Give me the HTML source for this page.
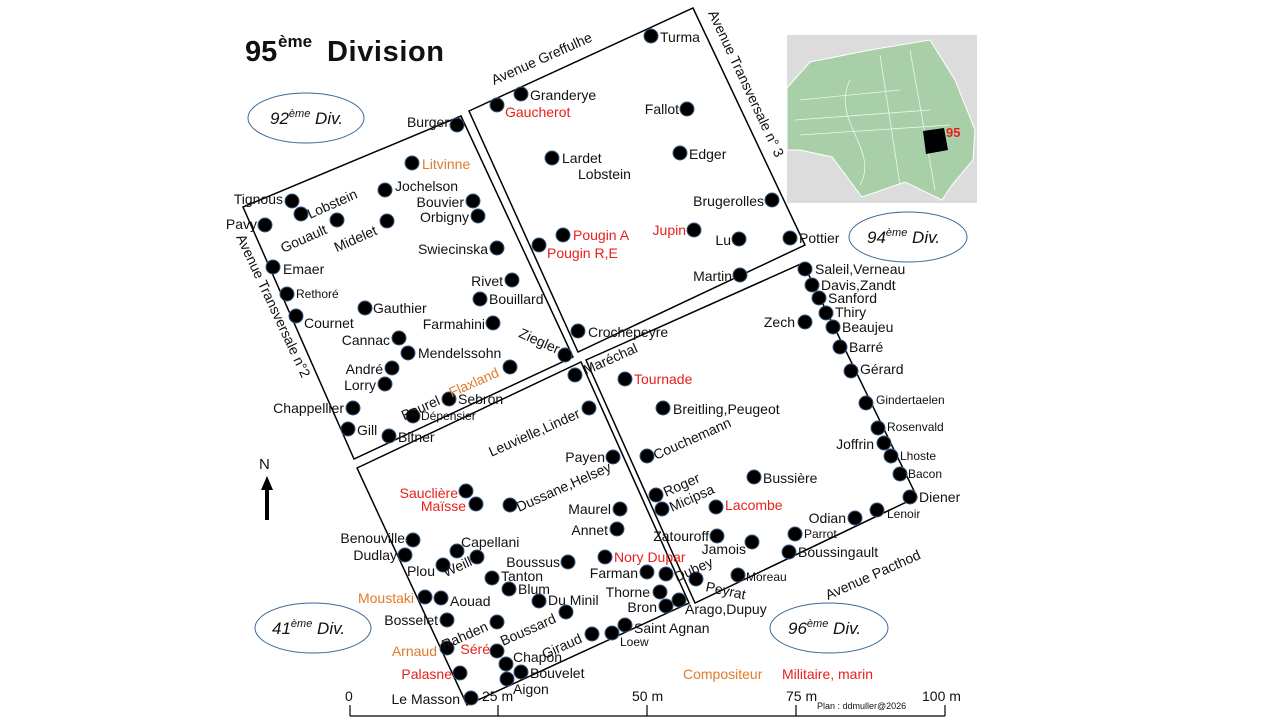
<!DOCTYPE html>
<html><head><meta charset="utf-8"><style>
html,body{margin:0;padding:0;background:#fff;width:1280px;height:720px;overflow:hidden}
svg{display:block;font-family:"Liberation Sans",Arial,sans-serif}
text{font-size:14px;fill:#111}
.r{fill:#e8201c}.o{fill:#e07b2b}
.e{text-anchor:end}
.s{font-size:12px}
</style></head><body>
<svg width="1280" height="720" viewBox="0 0 1280 720">
<!-- title -->
<text x="245" y="61" style="font-size:29px;font-weight:bold">95</text>
<text x="278" y="47" style="font-size:17px;font-weight:bold">ème</text>
<text x="327" y="61" style="font-size:29px;font-weight:bold;letter-spacing:0.6px">Division</text>

<!-- inset map -->
<rect x="787" y="35" width="190" height="168" fill="#dcdcdc"/>
<polygon points="787,88 810,62 870,50 930,40 955,80 975,130 973,160 952,185 942,200 905,182 862,197 832,157 800,150 787,150" fill="#a9cfa9" stroke="#fff" stroke-width="1"/>
<g stroke="#fff" stroke-width="0.8" fill="none" opacity="0.8">
<path d="M800,100 L900,90 M795,120 L930,110 M800,135 L950,125 M880,55 L900,185 M910,50 L935,190 M850,80 C830,120 880,150 860,185"/>
</g>
<polygon points="923,131 944,128 948,150 926,154" fill="#000"/>
<text x="946" y="137" style="font-size:13px;font-weight:bold;fill:#e8201c">95</text>

<!-- blocks -->
<g fill="none" stroke="#000" stroke-width="1.5">
<polygon points="243,207 461,116 573,357 354,459"/>
<polygon points="469,111 693,8 805,245 578,352"/>
<polygon points="357,468 581,362 689,603 467,705"/>
<polygon points="586,360 803,263 917,497 695,603"/>
</g>

<!-- ellipses -->
<g fill="none" stroke="#3a6a99" stroke-width="1">
<ellipse cx="306" cy="118" rx="58" ry="25"/>
<ellipse cx="908" cy="237" rx="59" ry="25"/>
<ellipse cx="313" cy="628" rx="58" ry="25"/>
<ellipse cx="829" cy="628" rx="59" ry="25"/>
</g>
<text x="270" y="124" style="font-size:17px;font-style:italic">92<tspan dy="-7" style="font-size:11px">ème</tspan><tspan dy="7"> Div.</tspan></text>
<text x="867" y="243" style="font-size:17px;font-style:italic">94<tspan dy="-7" style="font-size:11px">ème</tspan><tspan dy="7"> Div.</tspan></text>
<text x="272" y="634" style="font-size:17px;font-style:italic">41<tspan dy="-7" style="font-size:11px">ème</tspan><tspan dy="7"> Div.</tspan></text>
<text x="788" y="634" style="font-size:17px;font-style:italic">96<tspan dy="-7" style="font-size:11px">ème</tspan><tspan dy="7"> Div.</tspan></text>

<!-- avenues -->
<text transform="translate(494,85) rotate(-24)">Avenue Greffulhe</text>
<text transform="translate(708,13) rotate(65)">Avenue Transversale n° 3</text>
<text transform="translate(236,237) rotate(65)">Avenue Transversale n°2</text>
<text transform="translate(828,600) rotate(-24)">Avenue Pacthod</text>

<!-- north -->
<text x="259" y="469" style="font-size:15px">N</text>
<polygon points="267,476 261,490 265,490 265,520 269,520 269,490 273,490" fill="#000"/>

<!-- scale -->
<g stroke="#000" stroke-width="1.2">
<line x1="350" y1="716" x2="945" y2="716"/>
<line x1="350" y1="705" x2="350" y2="716"/><line x1="498" y1="705" x2="498" y2="716"/>
<line x1="647" y1="705" x2="647" y2="716"/><line x1="796" y1="705" x2="796" y2="716"/>
<line x1="945" y1="705" x2="945" y2="716"/>
</g>
<text x="345" y="701">0</text>
<text x="482" y="701">25 m</text>
<text x="632" y="701">50 m</text>
<text x="786" y="701">75 m</text>
<text x="922" y="701">100 m</text>
<text x="817" y="709" style="font-size:9px">Plan : ddmuller@2026</text>
<text x="683" y="679" class="o">Compositeur</text>
<text x="782" y="679" class="r">Militaire, marin</text>

<!-- dots -->
<g fill="#000" stroke="#3a5a80" stroke-width="1">
<circle cx="457" cy="125" r="7"/><circle cx="412" cy="163" r="7"/><circle cx="292" cy="201" r="7"/><circle cx="301" cy="214" r="7"/>
<circle cx="265" cy="225" r="7"/><circle cx="337" cy="220" r="7"/><circle cx="385" cy="190" r="7"/><circle cx="387" cy="221" r="7"/>
<circle cx="473" cy="201" r="7"/><circle cx="478" cy="216" r="7"/><circle cx="497" cy="248" r="7"/><circle cx="273" cy="267" r="7"/>
<circle cx="512" cy="280" r="7"/><circle cx="480" cy="299" r="7"/><circle cx="287" cy="294" r="7"/><circle cx="365" cy="308" r="7"/>
<circle cx="296" cy="316" r="7"/><circle cx="493" cy="323" r="7"/><circle cx="399" cy="338" r="7"/><circle cx="408" cy="353" r="7"/>
<circle cx="565" cy="355" r="7"/><circle cx="392" cy="368" r="7"/><circle cx="510" cy="367" r="7"/><circle cx="385" cy="384" r="7"/>
<circle cx="449" cy="399" r="7"/><circle cx="353" cy="408" r="7"/><circle cx="413" cy="416" r="7"/><circle cx="348" cy="429" r="7"/><circle cx="389" cy="436" r="7"/>
<circle cx="651" cy="36" r="7"/><circle cx="521" cy="94" r="7"/><circle cx="497" cy="105" r="7"/><circle cx="687" cy="109" r="7"/>
<circle cx="552" cy="158" r="7"/><circle cx="680" cy="153" r="7"/><circle cx="772" cy="200" r="7"/><circle cx="563" cy="235" r="7"/>
<circle cx="539" cy="245" r="7"/><circle cx="694" cy="230" r="7"/><circle cx="739" cy="239" r="7"/><circle cx="790" cy="238" r="7"/>
<circle cx="740" cy="275" r="7"/><circle cx="578" cy="331" r="7"/>
<circle cx="575" cy="375" r="7"/><circle cx="589" cy="408" r="7"/><circle cx="613" cy="457" r="7"/><circle cx="466" cy="491" r="7"/>
<circle cx="476" cy="504" r="7"/><circle cx="510" cy="505" r="7"/><circle cx="620" cy="509" r="7"/><circle cx="617" cy="529" r="7"/>
<circle cx="413" cy="540" r="7"/><circle cx="405" cy="555" r="7"/><circle cx="457" cy="551" r="7"/><circle cx="477" cy="557" r="7"/>
<circle cx="443" cy="565" r="7"/><circle cx="568" cy="562" r="7"/><circle cx="605" cy="557" r="7"/><circle cx="492" cy="578" r="7"/>
<circle cx="509" cy="589" r="7"/><circle cx="647" cy="572" r="7"/><circle cx="666" cy="574" r="7"/><circle cx="425" cy="597" r="7"/>
<circle cx="441" cy="598" r="7"/><circle cx="539" cy="601" r="7"/><circle cx="660" cy="592" r="7"/><circle cx="679" cy="600" r="7"/>
<circle cx="666" cy="606" r="7"/><circle cx="447" cy="620" r="7"/><circle cx="497" cy="622" r="7"/><circle cx="566" cy="612" r="7"/>
<circle cx="592" cy="634" r="7"/><circle cx="612" cy="633" r="7"/><circle cx="625" cy="625" r="7"/><circle cx="447" cy="648" r="7"/>
<circle cx="497" cy="651" r="7"/><circle cx="506" cy="664" r="7"/><circle cx="460" cy="673" r="7"/><circle cx="507" cy="679" r="7"/>
<circle cx="521" cy="672" r="7"/><circle cx="471" cy="698" r="7"/>
<circle cx="625" cy="379" r="7"/><circle cx="663" cy="408" r="7"/><circle cx="647" cy="456" r="7"/><circle cx="656" cy="495" r="7"/>
<circle cx="662" cy="509" r="7"/><circle cx="716" cy="507" r="7"/><circle cx="754" cy="477" r="7"/><circle cx="717" cy="536" r="7"/>
<circle cx="752" cy="542" r="7"/><circle cx="795" cy="534" r="7"/><circle cx="789" cy="552" r="7"/><circle cx="738" cy="575" r="7"/>
<circle cx="696" cy="579" r="7"/>
<circle cx="855" cy="518" r="7"/><circle cx="877" cy="510" r="7"/><circle cx="910" cy="497" r="7"/><circle cx="900" cy="474" r="7"/>
<circle cx="891" cy="456" r="7"/><circle cx="884" cy="443" r="7"/><circle cx="878" cy="428" r="7"/><circle cx="866" cy="403" r="7"/>
<circle cx="851" cy="371" r="7"/><circle cx="840" cy="347" r="7"/><circle cx="833" cy="327" r="7"/><circle cx="826" cy="313" r="7"/>
<circle cx="819" cy="298" r="7"/><circle cx="812" cy="285" r="7"/><circle cx="805" cy="269" r="7"/><circle cx="805" cy="322" r="7"/>
</g>

<!-- labels block A -->
<text x="449" y="127" class="e">Burger</text>
<text x="422" y="169" class="o">Litvinne</text>
<text x="283" y="204" class="e">Tignous</text>
<text transform="translate(310,219) rotate(-24)">Lobstein</text>
<text x="257" y="229" class="e">Pavy</text>
<text transform="translate(328,233) rotate(-24)" class="e">Gouault</text>
<text x="395" y="191">Jochelson</text>
<text transform="translate(378,234) rotate(-24)" class="e">Midelet</text>
<text x="464" y="207" class="e">Bouvier</text>
<text x="469" y="222" class="e">Orbigny</text>
<text x="488" y="254" class="e">Swiecinska</text>
<text x="283" y="274">Emaer</text>
<text x="503" y="286" class="e">Rivet</text>
<text x="489" y="304">Bouillard</text>
<text x="296" y="298" class="s">Rethoré</text>
<text x="373" y="313">Gauthier</text>
<text x="304" y="328">Cournet</text>
<text x="485" y="329" class="e">Farmahini</text>
<text x="390" y="345" class="e">Cannac</text>
<text x="418" y="358">Mendelssohn</text>
<text transform="translate(557,354) rotate(24)" class="e">Ziegler</text>
<text x="383" y="374" class="e">André</text>
<text transform="translate(500,376) rotate(-24)" class="e o">Flaxland</text>
<text x="376" y="390" class="e">Lorry</text>
<text x="458" y="404">Sebron</text>
<text transform="translate(441,404) rotate(-24)" class="e">Bourel</text>
<text x="344" y="413" class="e">Chappellier</text>
<text x="421" y="420" class="s">Dépensier</text>
<text x="357" y="435">Gill</text>
<text x="398" y="442">Bitner</text>
<!-- block B -->
<text x="660" y="42">Turma</text>
<text x="530" y="100">Granderye</text>
<text x="505" y="117" class="r">Gaucherot</text>
<text x="679" y="114" class="e">Fallot</text>
<text x="562" y="163">Lardet</text>
<text x="578" y="179">Lobstein</text>
<text x="689" y="159">Edger</text>
<text x="764" y="206" class="e">Brugerolles</text>
<text x="573" y="240" class="r">Pougin A</text>
<text x="547" y="258" class="r">Pougin R,E</text>
<text x="686" y="235" class="e r">Jupin</text>
<text x="731" y="245" class="e">Lu</text>
<text x="799" y="243">Pottier</text>
<text x="732" y="281" class="e">Martin</text>
<text x="588" y="337">Crochepeyre</text>
<!-- block C -->
<text transform="translate(586,375) rotate(-24)">Maréchal</text>
<text transform="translate(581,417) rotate(-24)" class="e">Leuvielle,Linder</text>
<text x="605" y="462" class="e">Payen</text>
<text x="458" y="498" class="e r">Sauclière</text>
<text x="466" y="511" class="e r">Maïsse</text>
<text transform="translate(519,512) rotate(-24)">Dussane,Helsey</text>
<text x="611" y="514" class="e">Maurel</text>
<text x="608" y="535" class="e">Annet</text>
<text x="405" y="543" class="e">Benouville</text>
<text x="397" y="560" class="e">Dudlay</text>
<text x="461" y="547">Capellani</text>
<text x="435" y="576" class="e">Plou</text>
<text transform="translate(473,565) rotate(-24)" class="e">Weill</text>
<text x="560" y="567" class="e">Boussus</text>
<text x="614" y="562" class="r">Nory Dupar</text>
<text x="501" y="581">Tanton</text>
<text x="518" y="594">Blum</text>
<text x="638" y="578" class="e">Farman</text>
<text transform="translate(677,582) rotate(-24)">Dubey</text>
<text x="414" y="603" class="e o">Moustaki</text>
<text x="450" y="606">Aouad</text>
<text x="548" y="605">Du Minil</text>
<text x="650" y="597" class="e">Thorne</text>
<text x="657" y="612" class="e">Bron</text>
<text transform="translate(705,591) rotate(12)">Peyrat</text>
<text x="685" y="614">Arago,Dupuy</text>
<text x="438" y="625" class="e">Bosselet</text>
<text transform="translate(489,630) rotate(-24)" class="e">Rahden</text>
<text transform="translate(557,622) rotate(-24)" class="e">Boussard</text>
<text transform="translate(583,642) rotate(-24)" class="e">Giraud</text>
<text x="620" y="646" class="s">Loew</text>
<text x="634" y="633">Saint Agnan</text>
<text x="437" y="656" class="e o">Arnaud</text>
<text x="490" y="654" class="e r">Séré</text>
<text x="513" y="662">Chapon</text>
<text x="452" y="679" class="e r">Palasne</text>
<text x="530" y="678">Bouvelet</text>
<text x="513" y="694">Aigon</text>
<text x="460" y="704" class="e">Le Masson</text>
<!-- block D -->
<text x="634" y="384" class="r">Tournade</text>
<text x="673" y="414">Breitling,Peugeot</text>
<text transform="translate(656,460) rotate(-24)">Couchemann</text>
<text transform="translate(666,497) rotate(-24)">Roger</text>
<text transform="translate(672,512) rotate(-24)">Micipsa</text>
<text x="725" y="510" class="r">Lacombe</text>
<text x="763" y="483">Bussière</text>
<text x="709" y="541" class="e">Zatouroff</text>
<text x="746" y="554" class="e">Jamois</text>
<text x="804" y="538" class="s">Parrot</text>
<text x="798" y="557">Boussingault</text>
<text x="746" y="581" class="s">Moreau</text>
<text x="846" y="523" class="e">Odian</text>
<text x="887" y="518" class="s">Lenoir</text>
<text x="919" y="502">Diener</text>
<text x="908" y="478" class="s">Bacon</text>
<text x="900" y="460" class="s">Lhoste</text>
<text x="874" y="449" class="e">Joffrin</text>
<text x="887" y="431" class="s">Rosenvald</text>
<text x="876" y="404" class="s">Gindertaelen</text>
<text x="860" y="374">Gérard</text>
<text x="849" y="352">Barré</text>
<text x="842" y="332">Beaujeu</text>
<text x="835" y="317">Thiry</text>
<text x="828" y="303">Sanford</text>
<text x="821" y="290">Davis,Zandt</text>
<text x="815" y="274">Saleil,Verneau</text>
<text x="795" y="327" class="e">Zech</text>
</svg>
</body></html>
